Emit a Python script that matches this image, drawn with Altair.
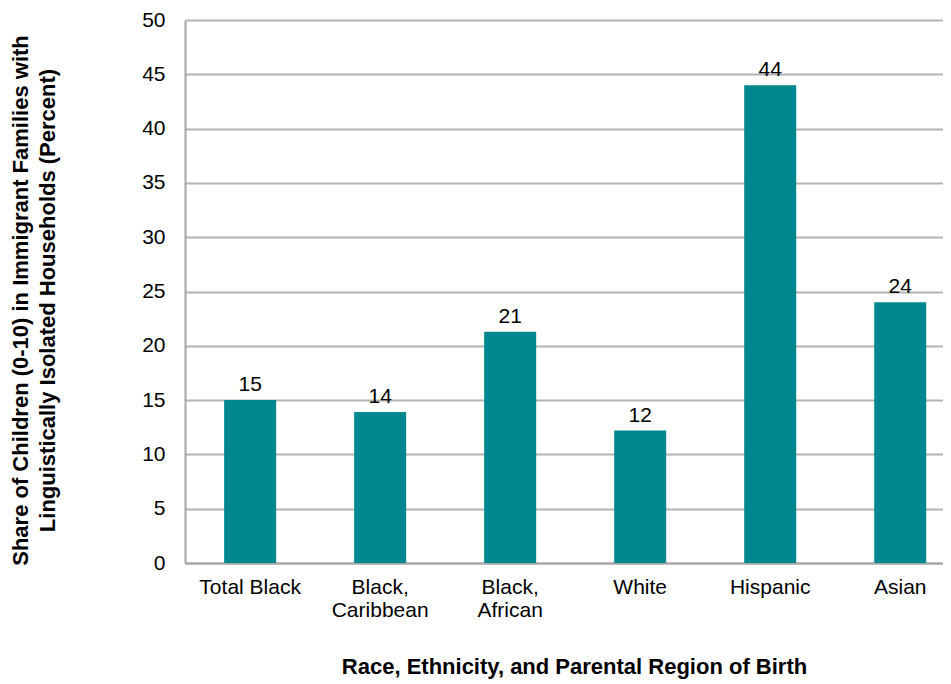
import altair as alt
import pandas as pd

categories = ["Total Black", "Black,\nCaribbean", "Black,\nAfrican", "White", "Hispanic", "Asian"]
values = [15.0, 13.9, 21.3, 12.2, 44.0, 24.0]
labels = ["15", "14", "21", "12", "44", "24"]

df = pd.DataFrame({"cat": categories, "val": values, "lab": labels})

FONT = "Liberation Sans"
BAR = "#00878F"
FS = 22

x = alt.X(
    "cat:N",
    sort=categories,
    scale=alt.Scale(paddingInner=0.6, paddingOuter=0.215, align=0.7),
    axis=alt.Axis(
        title="Race, Ethnicity, and Parental Region of Birth",
        labelAngle=0,
        labelFontSize=FS - 1,
        labelFont=FONT,
        labelColor="#000000",
        labelPadding=13,
        labelLineHeight=23,
        labelExpr="split(datum.label, '\\n')",
        ticks=False,
        domainColor="#A6A6A6",
        domainWidth=2,
        titleFont=FONT,
        titleFontSize=FS,
        titleFontWeight="bold",
        titleColor="#000000",
        titlePadding=36,
        titleX=389,
        grid=False,
    ),
)

y = alt.Y(
    "val:Q",
    scale=alt.Scale(domain=[0, 50], nice=False),
    axis=alt.Axis(
        title=["Share of Children (0-10) in Immigrant Families with",
               "Linguistically Isolated Households (Percent)"],
        values=list(range(0, 51, 5)),
        labelFontSize=FS - 1,
        labelFont=FONT,
        labelColor="#000000",
        labelPadding=20,
        ticks=False,
        domainColor="#A6A6A6",
        domainWidth=2,
        gridColor="#B3B3B3",
        gridWidth=2,
        titleFont=FONT,
        titleFontSize=FS,
        titleFontWeight="bold",
        titleColor="#000000",
        titleLineHeight=27,
        titlePadding=82,
        titleY=280,
    ),
)

bars = alt.Chart(df).mark_bar(color=BAR).encode(x=x, y=y)
text = alt.Chart(df).mark_text(
    baseline="bottom", dy=-5, fontSize=FS - 1, font=FONT, color="#000000"
).encode(x=alt.X("cat:N", sort=categories), y="val:Q", text="lab:N")

chart = (
    (bars + text)
    .properties(
        width=758,
        height=543,
        autosize=alt.AutoSizeParams(type="none"),
        padding={"left": 177, "top": 12, "right": 0, "bottom": 120},
    )
    .configure_view(stroke=None)
    .configure(background="#ffffff")
)

chart.save("out.html", embed_options={"renderer": "svg", "actions": False})
